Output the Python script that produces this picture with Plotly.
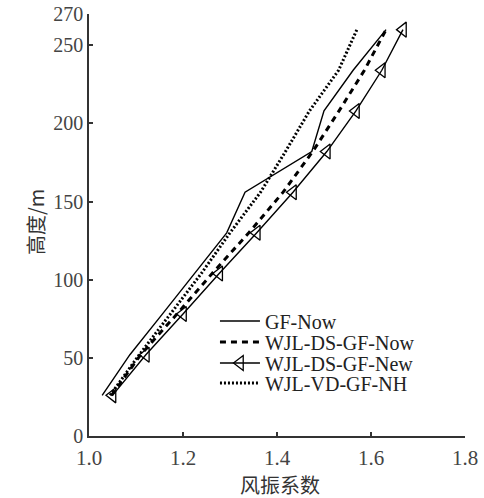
import plotly.graph_objects as go

heights = [26, 52, 78, 104, 130, 156, 182, 208, 234, 260]
gf_now = [1.028, 1.087, 1.156, 1.225, 1.293, 1.332, 1.474, 1.500, 1.562, 1.632]
wjl_ds_now = [1.048, 1.110, 1.187, 1.262, 1.340, 1.413, 1.476, 1.532, 1.586, 1.632]
wjl_ds_new = [1.050, 1.121, 1.200, 1.277, 1.357, 1.434, 1.506, 1.568, 1.623, 1.668]
wjl_vd_nh = [1.045, 1.107, 1.173, 1.239, 1.300, 1.365, 1.418, 1.469, 1.531, 1.570]

x_ticks = [1.0, 1.2, 1.4, 1.6, 1.8]
x_ticktext = ["1.0", "1.2", "1.4", "1.6", "1.8"]
y_ticks = [0, 50, 100, 150, 200, 250, 270]

names = ["GF-Now", "WJL-DS-GF-Now", "WJL-DS-GF-New", "WJL-VD-GF-NH"]
x_title = "风振系数"
y_title = "高度/m"

serif = "Liberation Serif, Times New Roman, serif"
cjk = "Noto Sans CJK SC, sans-serif"

fig = go.Figure()
fig.add_trace(go.Scatter(x=gf_now, y=heights, mode="lines", name=names[0], legend="legend",
                         line=dict(color="black", width=1.4)))
fig.add_trace(go.Scatter(x=wjl_ds_now, y=heights, mode="lines", name=names[1], legend="legend2",
                         line=dict(color="black", width=3, dash="6px,5px")))
fig.add_trace(go.Scatter(x=wjl_ds_new, y=heights, mode="lines+markers", name=names[2], legend="legend3",
                         line=dict(color="black", width=1.4),
                         marker=dict(symbol="triangle-left-open", size=13, color="black",
                                     line=dict(width=1.3, color="black"))))
fig.add_trace(go.Scatter(x=wjl_vd_nh, y=heights, mode="lines", name=names[3], legend="legend4",
                         line=dict(color="black", width=3, dash="2px,2px")))

leg_common = dict(x=0.335, xanchor="left", yanchor="middle", bgcolor="rgba(0,0,0,0)",
                  font=dict(family=serif, size=20, color="#222"), itemwidth=40)
leg_y = [0.2725, 0.2227, 0.1730, 0.1256]

fig.update_layout(
    width=484, height=498,
    margin=dict(l=89, r=19, t=14, b=62),
    paper_bgcolor="white", plot_bgcolor="white",
    showlegend=True,
    legend=dict(y=leg_y[0], **leg_common),
    legend2=dict(y=leg_y[1], **leg_common),
    legend3=dict(y=leg_y[2], **leg_common),
    legend4=dict(y=leg_y[3], **leg_common),
    font=dict(family=serif, size=21, color="#333"),
    annotations=[
        dict(text=x_title, xref="paper", yref="paper", x=0.508, y=-0.114,
             xanchor="center", yanchor="middle", showarrow=False,
             font=dict(family=cjk, size=20, color="#333")),
        dict(text=y_title, xref="paper", yref="paper", x=-0.1436, y=0.507,
             xanchor="center", yanchor="middle", showarrow=False, textangle=-90,
             font=dict(family=cjk, size=20, color="#333")),
    ],
)
fig.update_xaxes(range=[1.0, 1.8], tickvals=x_ticks, ticktext=x_ticktext, automargin=False,
                 showgrid=False, zeroline=False, showline=True, linecolor="#333", linewidth=1.5,
                 ticks="inside", ticklen=4, tickcolor="#333", tickwidth=1.5, ticklabelstandoff=2,
                 tickfont=dict(family=serif, size=21, color="#444"))
fig.update_yaxes(range=[0, 270], tickvals=y_ticks, automargin=False,
                 showgrid=False, zeroline=False, showline=True, linecolor="#333", linewidth=1.5,
                 ticks="inside", ticklen=4, tickcolor="#333", tickwidth=1.5,
                 tickfont=dict(family=serif, size=20, color="#444"))

fig.write_html("out.html", config={"displayModeBar": False},
               post_script="document.body.style.margin='0';document.body.style.overflow='hidden';")
